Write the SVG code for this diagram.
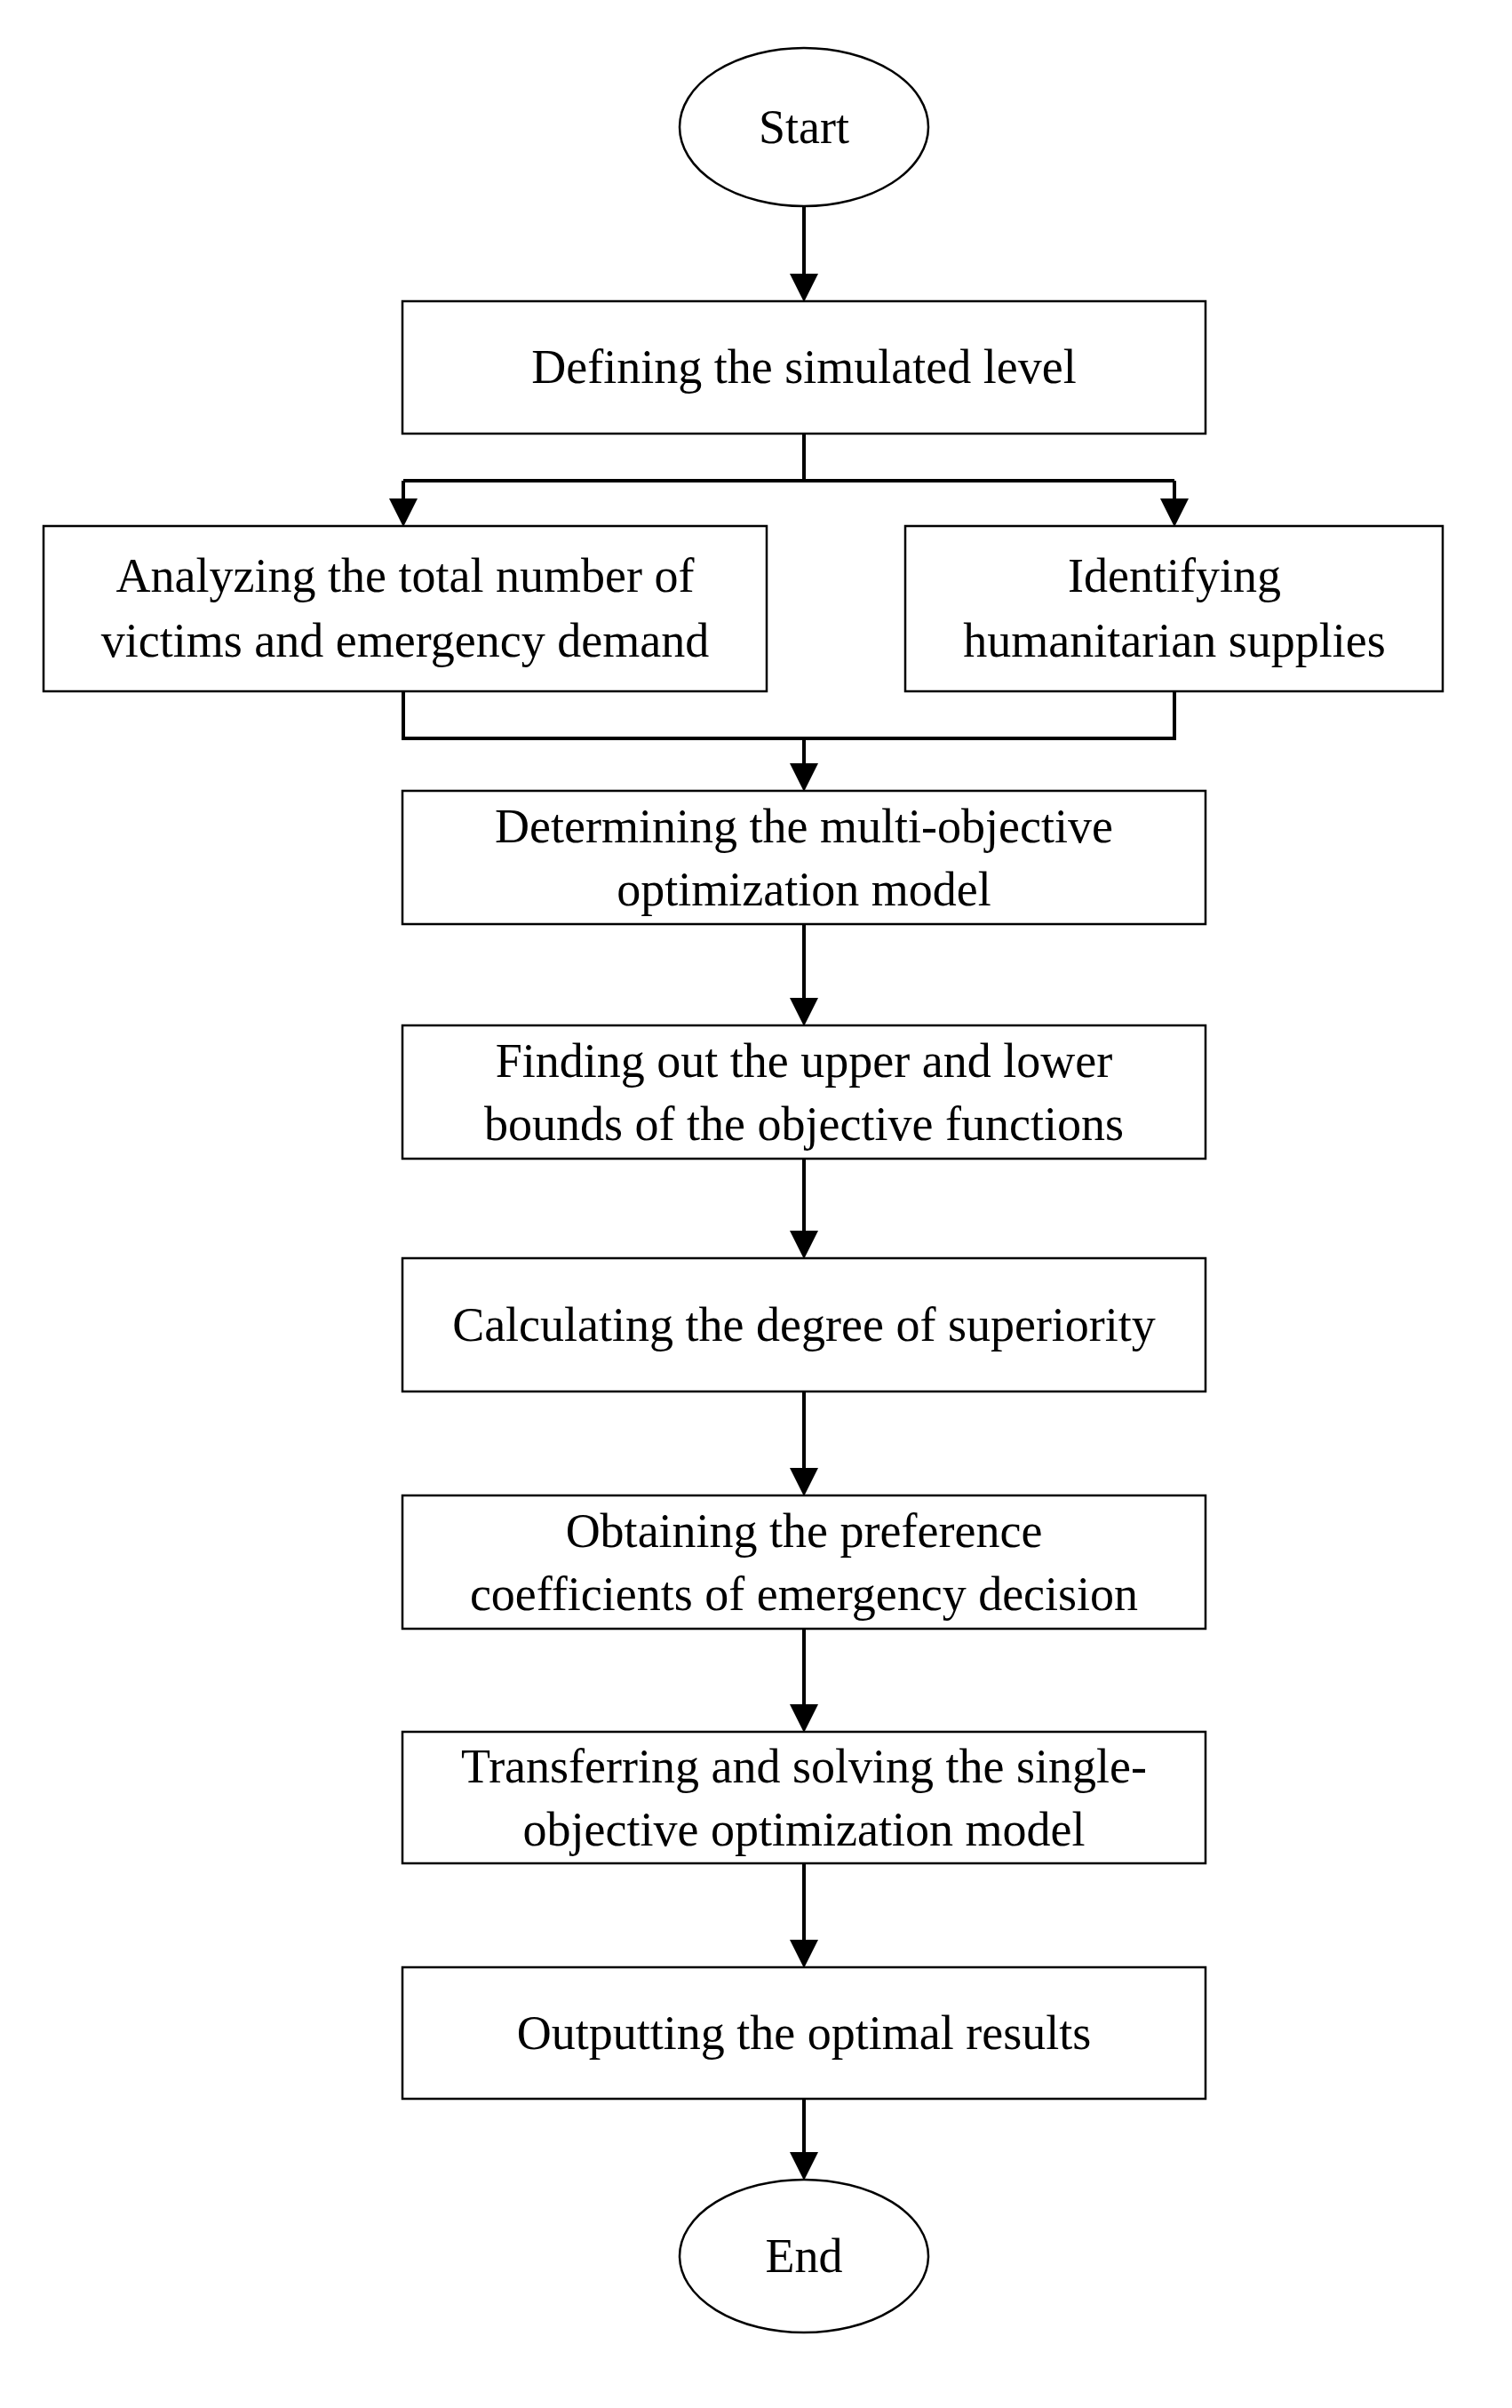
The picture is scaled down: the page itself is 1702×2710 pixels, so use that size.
<svg xmlns="http://www.w3.org/2000/svg" width="1702" height="2710" viewBox="0 0 1702 2710">
<style>
.b{fill:#fff;stroke:#000;stroke-width:2.5}
.t{font-family:"Liberation Serif",serif;font-size:54px;text-anchor:middle;fill:#000}
.c{fill:none;stroke:#000;stroke-width:4}
</style>
<defs><marker id="a" markerWidth="8" markerHeight="8" refX="7" refY="4" orient="auto" markerUnits="strokeWidth"><path d="M0,0 L8,4 L0,8 Z" fill="#000"/></marker></defs>
<rect width="1702" height="2710" fill="#fff"/>
<g id="connectors">
<path class="c" d="M905,232 V336" marker-end="url(#a)"/>
<path class="c" d="M905,488 V541 M454,541 H1322"/>
<path class="c" d="M454,541 V589" marker-end="url(#a)"/>
<path class="c" d="M1322,541 V589" marker-end="url(#a)"/>
<path class="c" d="M454,778 V831 H1322 V778"/>
<path class="c" d="M905,831 V887" marker-end="url(#a)"/>
<path class="c" d="M905,1040 V1151" marker-end="url(#a)"/>
<path class="c" d="M905,1304 V1413" marker-end="url(#a)"/>
<path class="c" d="M905,1566 V1680" marker-end="url(#a)"/>
<path class="c" d="M905,1833 V1946" marker-end="url(#a)"/>
<path class="c" d="M905,2097 V2211" marker-end="url(#a)"/>
<path class="c" d="M905,2362 V2450" marker-end="url(#a)"/>
</g>
<g id="start"><ellipse class="b" cx="905" cy="143" rx="140" ry="89"/><text class="t" x="905" y="161">Start</text></g>
<g id="n1"><rect class="b" x="453" y="339" width="904" height="149"/><text class="t" x="905" y="431">Defining the simulated level</text></g>
<g id="n2"><rect class="b" x="49" y="592" width="814" height="186"/><text class="t" x="456" y="666">Analyzing the total number of</text><text class="t" x="456" y="739">victims and emergency demand</text></g>
<g id="n3"><rect class="b" x="1019" y="592" width="605" height="186"/><text class="t" x="1322" y="666">Identifying</text><text class="t" x="1322" y="739">humanitarian supplies</text></g>
<g id="n4"><rect class="b" x="453" y="890" width="904" height="150"/><text class="t" x="905" y="948">Determining the multi-objective</text><text class="t" x="905" y="1019">optimization model</text></g>
<g id="n5"><rect class="b" x="453" y="1154" width="904" height="150"/><text class="t" x="905" y="1212">Finding out the upper and lower</text><text class="t" x="905" y="1283">bounds of the objective functions</text></g>
<g id="n6"><rect class="b" x="453" y="1416" width="904" height="150"/><text class="t" x="905" y="1509">Calculating the degree of superiority</text></g>
<g id="n7"><rect class="b" x="453" y="1683" width="904" height="150"/><text class="t" x="905" y="1741">Obtaining the preference</text><text class="t" x="905" y="1812">coefficients of emergency decision</text></g>
<g id="n8"><rect class="b" x="453" y="1949" width="904" height="148"/><text class="t" x="905" y="2006">Transferring and solving the single-</text><text class="t" x="905" y="2077">objective optimization model</text></g>
<g id="n9"><rect class="b" x="453" y="2214" width="904" height="148"/><text class="t" x="905" y="2306">Outputting the optimal results</text></g>
<g id="end"><ellipse class="b" cx="905" cy="2539" rx="140" ry="86"/><text class="t" x="905" y="2557">End</text></g>
</svg>
